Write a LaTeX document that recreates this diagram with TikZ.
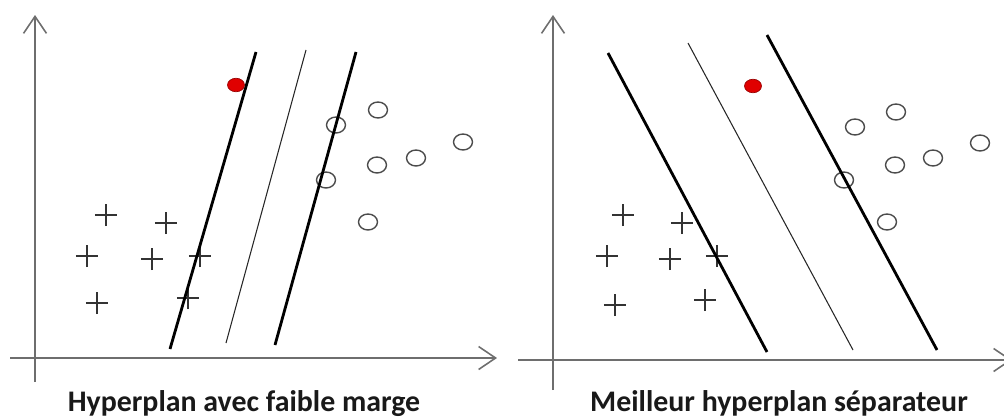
\documentclass[tikz,border=0pt]{standalone}
\usepackage{fontspec}
\setmainfont{Carlito}
\usetikzlibrary{arrows.meta,shapes.geometric,shapes.misc}
\definecolor{axisgray}{HTML}{6E6E6E}
\definecolor{dotred}{HTML}{E00000}
\tikzset{
  axis/.style={axisgray, line width=0.9pt, -{Straight Barb[length=3.4mm, width=4.6mm]}},
  margin/.style={black, line width=1.6pt},
  hyper/.style={black!85, line width=0.6pt},
  plus/.style={cross out, draw, rotate=45, minimum size=0.29cm, inner sep=0pt, line width=0.7pt, black!80},
  ring/.style={ellipse, draw, minimum width=0.38cm, minimum height=0.32cm, inner sep=0pt, line width=0.8pt, black!70},
  newpt/.style={ellipse, fill=dotred, draw=red!60!black, minimum width=0.34cm, minimum height=0.27cm, inner sep=0pt},
  caption/.style={font=\bfseries\fontsize{17}{20}\selectfont, text=black!90, anchor=base}
}
\begin{document}
\begin{tikzpicture}[x=0.02cm, y=-0.02cm]
    \useasboundingbox (0,0) rectangle (1004,419);
    \clip (0,0) rectangle (1004,419);
    % left panel: small margin
    \coordinate (ya0) at (35,382);
    \coordinate (ya1) at (35,15);
    \coordinate (xa0) at (10,358);
    \coordinate (xa1) at (497,358);
    \draw[axis] (ya0) -- (ya1);
    \draw[axis] (xa0) -- (xa1);
    \foreach \px/\py [count=\i] in {106/215, 166/223, 87/256, 152/259, 200/256, 97/303, 188/298}
        \node[plus] (pa\i) at (\px,\py) {};
    \foreach \px/\py [count=\i] in {378/110, 336/125, 463/142, 416/158, 377/165, 326/180, 368/222}
        \node[ring] (ca\i) at (\px,\py) {};
    \coordinate (ma0) at (170,349);
    \coordinate (ma1) at (256,52);
    \coordinate (ha0) at (226,343);
    \coordinate (ha1) at (306,50);
    \coordinate (na0) at (275,345);
    \coordinate (na1) at (356,52);
    \draw[margin] (ma0) -- (ma1);
    \draw[hyper] (ha0) -- (ha1);
    \draw[margin] (na0) -- (na1);
    \node[newpt] (ra) at (236,85) {};
    \node[caption] (ta) at (244,411) {Hyperplan avec faible marge};
    % right panel: best separating hyperplane
    \coordinate (yb0) at (553,390);
    \coordinate (yb1) at (553,15);
    \coordinate (xb0) at (518,360);
    \coordinate (xb1) at (1012,360);
    \draw[axis] (yb0) -- (yb1);
    \draw[axis] (xb0) -- (xb1);
    \foreach \px/\py [count=\i] in {623/215, 682/223, 607/256, 670/259, 717/256, 615/305, 705/300}
        \node[plus] (pb\i) at (\px,\py) {};
    \foreach \px/\py [count=\i] in {896/112, 855/127, 980/143, 933/158, 895/165, 844/180, 887/222}
        \node[ring] (cb\i) at (\px,\py) {};
    \coordinate (mb0) at (608,53);
    \coordinate (mb1) at (767,352);
    \coordinate (hb0) at (688,43);
    \coordinate (hb1) at (853,350);
    \coordinate (nb0) at (767,35);
    \coordinate (nb1) at (937,350);
    \draw[margin] (mb0) -- (mb1);
    \draw[hyper] (hb0) -- (hb1);
    \draw[margin] (nb0) -- (nb1);
    \node[newpt] (rb) at (753,86) {};
    \node[caption] (tb) at (779,411) {Meilleur hyperplan séparateur};
\end{tikzpicture}
\end{document}
